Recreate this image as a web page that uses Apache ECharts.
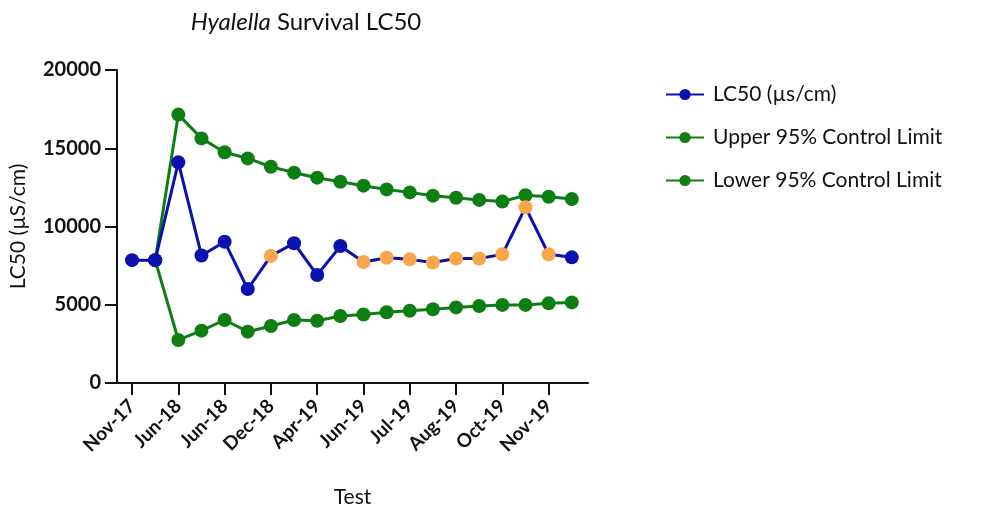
<!DOCTYPE html>
<html><head><meta charset="utf-8">
<script src="https://cdn.jsdelivr.net/npm/echarts@6/dist/echarts.min.js"></script>
<style>html,body{margin:0;padding:0;background:#fff}#c{width:986px;height:516px}</style>
</head><body><div id="c"></div>
<script>
const categories = ['Nov-17','','Jun-18','','Jun-18','','Dec-18','','Apr-19','','Jun-19','','Jul-19','','Aug-19','','Oct-19','','Nov-19',''];
const lc50 = [7850,7850,14100,8150,9030,6000,8120,8930,6900,8750,7730,8000,7900,7700,7960,7960,8220,11230,8220,8030];
const flagged = [false,false,false,false,false,false,true,false,false,false,true,true,true,true,true,true,true,true,true,false];
const upper = [null,7850,17150,15630,14740,14350,13820,13440,13120,12860,12610,12370,12180,11970,11840,11700,11590,12000,11900,11750];
const lower = [null,7850,2750,3345,4025,3280,3640,4025,3980,4280,4380,4520,4620,4710,4830,4920,4990,4990,5090,5150];
const tickIdx = [0,2,4,6,8,10,12,14,16,18];

const BLUE = '#0b10b0', GREEN = '#0c7e12', ORANGE = '#f9a54c';
const F = 'Lato, "Open Sans", sans-serif';
const chart = echarts.init(document.getElementById('c'));
chart.setOption({
  animation: false,
  backgroundColor: '#fff',
  title: {
    text: '{i|Hyalella} Survival LC50',
    left: 301, top: 5, textAlign: 'center',
    textStyle: { fontFamily: F, fontSize: 24, fontWeight: 'normal', color: '#111',
      rich: { i: { fontFamily: F, fontSize: 24, fontStyle: 'italic', color: '#111' } } }
  },
  legend: {
    orient: 'vertical', left: 660, top: 79, itemGap: 22, itemWidth: 38, itemHeight: 14,
    textStyle: { fontFamily: F, fontSize: 21, color: '#111', padding: [0,0,0,4] },
    data: ['LC50 (µs/cm)', 'Upper 95% Control Limit', 'Lower 95% Control Limit']
  },
  grid: { left: 117, right: 398, top: 70, bottom: 133 },
  xAxis: {
    type: 'value', min: -0.65, max: 19.7,
    name: 'Test', nameLocation: 'middle', nameGap: 104,
    nameTextStyle: { fontFamily: F, fontSize: 21, color: '#111' },
    axisLine: { onZero: false, lineStyle: { color: '#111', width: 2 } },
    axisTick: { show: true, length: 12, lineStyle: { color: '#111', width: 2 }, customValues: tickIdx },
    axisLabel: { rotate: 45, margin: 20, fontFamily: F, fontSize: 19, fontWeight: 'bold', color: '#111',
      customValues: tickIdx, formatter: v => categories[Math.round(v)] || '' },
    splitLine: { show: false }
  },
  yAxis: {
    type: 'value', min: 0, max: 20000, interval: 5000,
    name: 'LC50 (µS/cm)', nameLocation: 'middle', nameGap: 88,
    nameTextStyle: { fontFamily: F, fontSize: 21, color: '#111' },
    axisLine: { show: true, onZero: false, lineStyle: { color: '#111', width: 2 } },
    axisTick: { show: true, length: 12, lineStyle: { color: '#111', width: 2 } },
    axisLabel: { fontFamily: F, fontSize: 20, fontWeight: 'bold', color: '#111', margin: 16,
      formatter: v => String(v) },
    splitLine: { show: false }
  },
  series: [
    {
      name: 'LC50 (µs/cm)', type: 'line', z: 5,
      symbol: 'circle', symbolSize: 14, color: BLUE,
      lineStyle: { width: 3, color: BLUE }, itemStyle: { color: BLUE },
      data: lc50.map((v, i) => ({ value: [i, v], itemStyle: { color: flagged[i] ? ORANGE : BLUE } }))
    },
    {
      name: 'Upper 95% Control Limit', type: 'line', z: 3,
      symbol: 'circle', symbolSize: 14, color: GREEN,
      lineStyle: { width: 3, color: GREEN }, itemStyle: { color: GREEN },
      data: upper.map((v, i) => [i, v])
    },
    {
      name: 'Lower 95% Control Limit', type: 'line', z: 3,
      symbol: 'circle', symbolSize: 14, color: GREEN,
      lineStyle: { width: 3, color: GREEN }, itemStyle: { color: GREEN },
      data: lower.map((v, i) => [i, v])
    }
  ]
});
</script></body></html>
